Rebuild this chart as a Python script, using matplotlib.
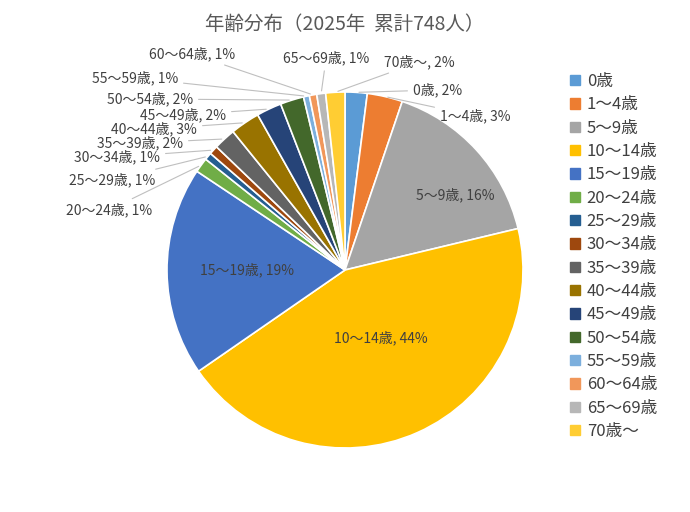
import matplotlib
matplotlib.use("Agg")
import matplotlib.pyplot as plt
import numpy as np

plt.rcParams["font.family"] = "Noto Sans CJK JP"

categories = ["0歳", "1～4歳", "5～9歳", "10～14歳", "15～19歳", "20～24歳", "25～29歳", "30～34歳",
              "35～39歳", "40～44歳", "45～49歳", "50～54歳", "55～59歳", "60～64歳", "65～69歳", "70歳～"]
counts = [15, 24, 120, 330, 142, 10, 5, 6, 15, 20, 17, 16, 4, 5, 6, 13]
pct_labels = ["2%", "3%", "16%", "44%", "19%", "1%", "1%", "1%", "2%", "3%", "2%", "2%", "1%", "1%", "1%", "2%"]
colors = ["#5B9BD5", "#ED7D31", "#A5A5A5", "#FFC000", "#4472C4", "#70AD47", "#255E91", "#9E480E",
          "#636363", "#997300", "#264478", "#43682B", "#7CAFDD", "#F1975A", "#B7B7B7", "#FFCD33"]

fig = plt.figure(figsize=(6.9, 5.12), dpi=100)
ax = fig.add_axes([167/690, (512-448)/512, 356/690, 356/512])
wedges, _ = ax.pie(counts, colors=colors, startangle=90, counterclock=False,
                   wedgeprops=dict(edgecolor="white", linewidth=1.2))
ax.set_xlim(-1, 1); ax.set_ylim(-1, 1); ax.set_aspect("equal")

fig.text(0.5, 1 - 25/512, "年齢分布（2025年  累計748人）", ha="center", va="center",
         fontsize=14, color="#595959")

tc = "#404040"
inside = {2: (0.62, 0.42), 3: (0.2, -0.38), 4: (-0.55, 0.0)}
outside = {0: (413, 90, "left"), 1: (440, 116, "left"), 15: (384, 62, "left"),
           14: (283, 58, "left"), 13: (235, 54, "right"), 12: (178, 78, "right"),
           11: (193, 99, "right"), 10: (226, 115, "right"), 9: (197, 129, "right"),
           8: (183, 143, "right"), 7: (160, 157, "right"), 6: (155, 180, "right"),
           5: (152, 210, "right")}
for i, w in enumerate(wedges):
    lab = f"{categories[i]}, {pct_labels[i]}"
    if i in inside:
        ax.text(*inside[i], lab, ha="center", va="center", fontsize=10, color=tc)
    else:
        ang = np.deg2rad((w.theta1 + w.theta2) / 2)
        pt = (np.cos(ang), np.sin(ang))
        x, y, ha = outside[i]
        ax.annotate(lab, xy=pt, xytext=(x, 512 - y), textcoords="figure pixels",
                    ha=ha, va="center", fontsize=10, color=tc,
                    arrowprops=dict(arrowstyle="-", color="#BFBFBF", lw=0.8))

handles = [plt.Rectangle((0, 0), 1, 1, color=c) for c in colors]
fig.legend(handles, categories, loc="upper left", bbox_to_anchor=(555/690, 1 - 58/512),
           frameon=False, fontsize=12, handlelength=0.6, handleheight=0.6,
           handletextpad=0.4, labelspacing=0.38, labelcolor=tc)
fig.savefig("out.png", dpi=100)
